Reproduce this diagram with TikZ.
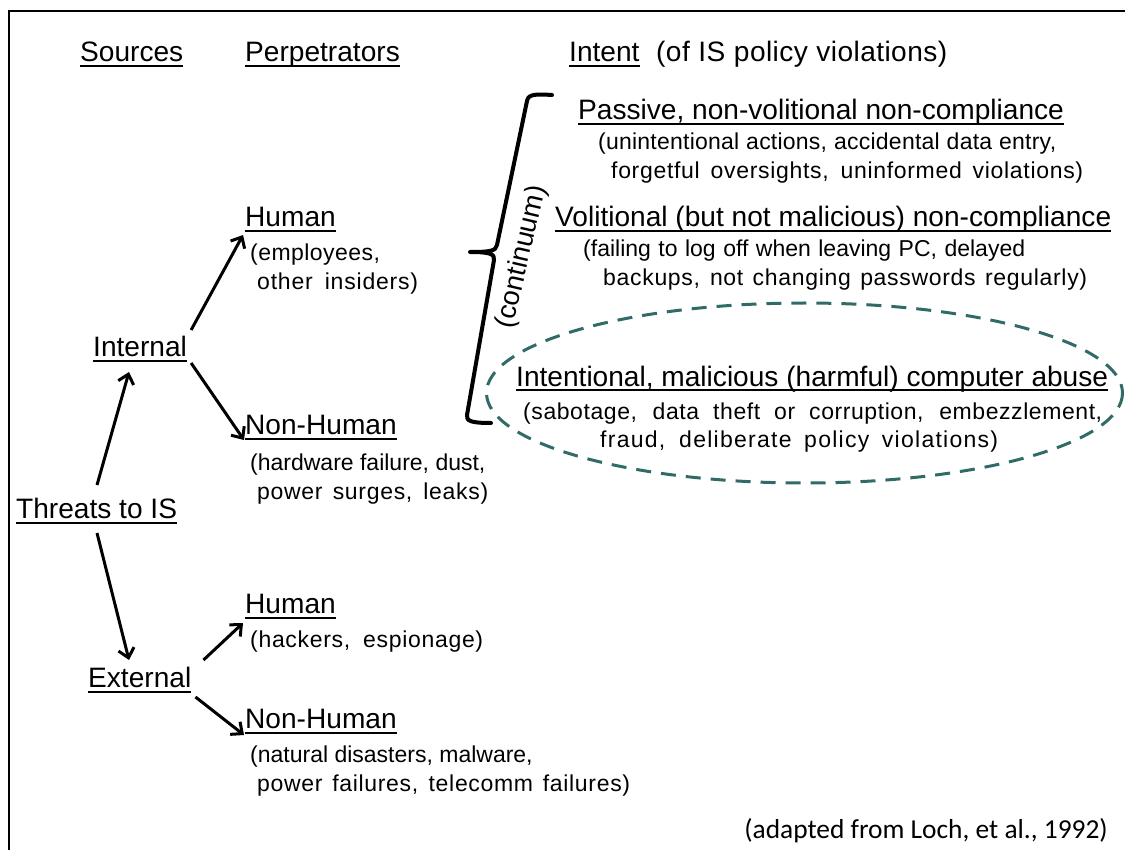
\documentclass[tikz,border=0pt]{standalone}
\usepackage{fontspec}
\setmainfont{Liberation Sans}
\newfontfamily\citefont{Carlito}
\usetikzlibrary{arrows.meta,calc}
\definecolor{ovalteal}{RGB}{49,107,104}
% a line of text set to a given width: light letter spacing, then stretched spaces
\newcommand\fitline[3]{\makebox[#1][s]{\addfontfeature{LetterSpace=#2}#3}}
\begin{document}
\begin{tikzpicture}[x=1pt,y=-1pt,
  head/.style={font=\fontsize{28.1}{30}\selectfont, inner sep=0pt, anchor=base west},
  sub/.style={font=\fontsize{23}{26}\selectfont, inner sep=0pt, anchor=base west},
  ulline/.style={line width=2pt},
  arr/.style={line width=3pt, -{Straight Barb[length=9pt,width=16pt]}},
  frameline/.style={line width=2.5pt},
  bracestroke/.style={line width=4pt, line join=round, line cap=round},
  oval/.style={draw=ovalteal, line width=3pt, dash pattern=on 15pt off 10pt}]
\useasboundingbox (0,0) rectangle (1125,850);

% cropped frame: only the left and top edges
\draw[frameline] (9,850) -- (9,11) -- (1125,11);

% column headings
\node[head] (hsrc) at (80,62) {Sources};
\node[head] (hper) at (245,62) {Perpetrators};
\node[head] (hint) at (569,62) {Intent};
\node[head] (hintx) at (656,62) {\fitline{291pt}{1.5}{(of IS policy violations)}};

% sources
\node[head] (threats) at (16,518) {Threats to IS};
\node[head] (internal) at (93,357) {Internal};
\node[head] (external) at (88,687) {External};

% perpetrators
\node[head] (ihum) at (245,227) {Human};
\node[sub] (ihum1) at (250,261) {\fitline{130pt}{2}{(employees,}};
\node[sub] (ihum2) at (257,290) {\fitline{161pt}{3.5}{other insiders)}};
\node[head] (inon) at (245,434) {Non-Human};
\node[sub] (inon1) at (250,470) {(hardware failure, dust,};
\node[sub] (inon2) at (257,499) {\fitline{231pt}{3}{power surges, leaks)}};
\node[head] (ehum) at (245,613) {Human};
\node[sub] (ehum1) at (250,647) {\fitline{233pt}{3}{(hackers, espionage)}};
\node[head] (enon) at (245,728) {Non-Human};
\node[sub] (enon1) at (250,762) {(natural disasters, malware,};
\node[sub] (enon2) at (257,791) {\fitline{373pt}{3}{power failures, telecomm failures)}};

% intent levels
\node[head] (pas) at (578,120) {Passive, non-volitional non-compliance};
\node[sub] (pas1) at (598,150) {\fitline{458pt}{1}{(unintentional actions, accidental data entry,}};
\node[sub] (pas2) at (611,179) {\fitline{472pt}{3}{forgetful oversights, uninformed violations)}};
\node[head] (vol) at (555,227) {Volitional (but not malicious) non-compliance};
\node[sub] (vol1) at (583,257) {\fitline{442pt}{0}{(failing to log off when leaving PC, delayed}};
\node[sub] (vol2) at (603,286) {\fitline{484pt}{3}{backups, not changing passwords regularly)}};
\node[head] (mal) at (516,386) {Intentional, malicious (harmful) computer abuse};
\node[sub] (mal1) at (523,420) {\fitline{579pt}{2.5}{(sabotage, data theft or corruption, embezzlement,}};
\node[sub] (mal2) at (600,447) {\fitline{398pt}{5.5}{fraud, deliberate policy violations)}};

% underlines
\foreach \n in {hsrc,hper,hint,threats,internal,external,ihum,inon,ehum,enon,pas,vol,mal}
  \draw[ulline] ([yshift=-4.5pt]\n.base west) -- ([yshift=-4.5pt]\n.base east);

% arrows
\draw[arr] ([xshift=81pt,yshift=33pt]threats.base west) -- ([xshift=36pt,yshift=-15pt]internal.base west);
\draw[arr] ([xshift=81pt,yshift=-15pt]threats.base west) -- ([xshift=41pt,yshift=27pt]external.base west);
\draw[arr] ([xshift=4pt,yshift=27pt]internal.base east) -- ([xshift=-2pt,yshift=-8pt]ihum.base west);
\draw[arr] ([xshift=4pt,yshift=-6pt]internal.base east) -- ([xshift=-1pt,yshift=-6pt]inon.base west);
\draw[arr] ([xshift=12pt,yshift=27pt]external.base east) -- ([xshift=-2pt,yshift=-10pt]ehum.base west);
\draw[arr] ([xshift=4pt,yshift=-10pt]external.base east) -- ([xshift=-1pt,yshift=-7pt]enon.base west);

% the continuum brace and its label
\coordinate (btop) at (552,95);
\coordinate (btip) at (470,252);
\coordinate (bbot) at (491,423);
\draw[bracestroke] (btop) .. controls (536,94) and (528,94) .. (527,101)
  -- (497,245) .. controls (496,251) and (490,252) .. (btip)
  .. controls (490,252) and (495,254) .. (494,260)
  -- (467,415) .. controls (466,421) and (471,423) .. (bbot);
\node[font=\fontsize{27.5}{30}\selectfont, rotate=77, inner sep=0pt] (cont) at (522,257) {(continuum)};

% the malicious-abuse oval
\draw[oval] (804.5,393) ellipse [x radius=318, y radius=90];

% source note
\node[font=\citefont\fontsize{27.4}{30}\selectfont, inner sep=0pt, anchor=base east] (note) at (1108,838) {(adapted from Loch, et al., 1992)};
\end{tikzpicture}
\end{document}
